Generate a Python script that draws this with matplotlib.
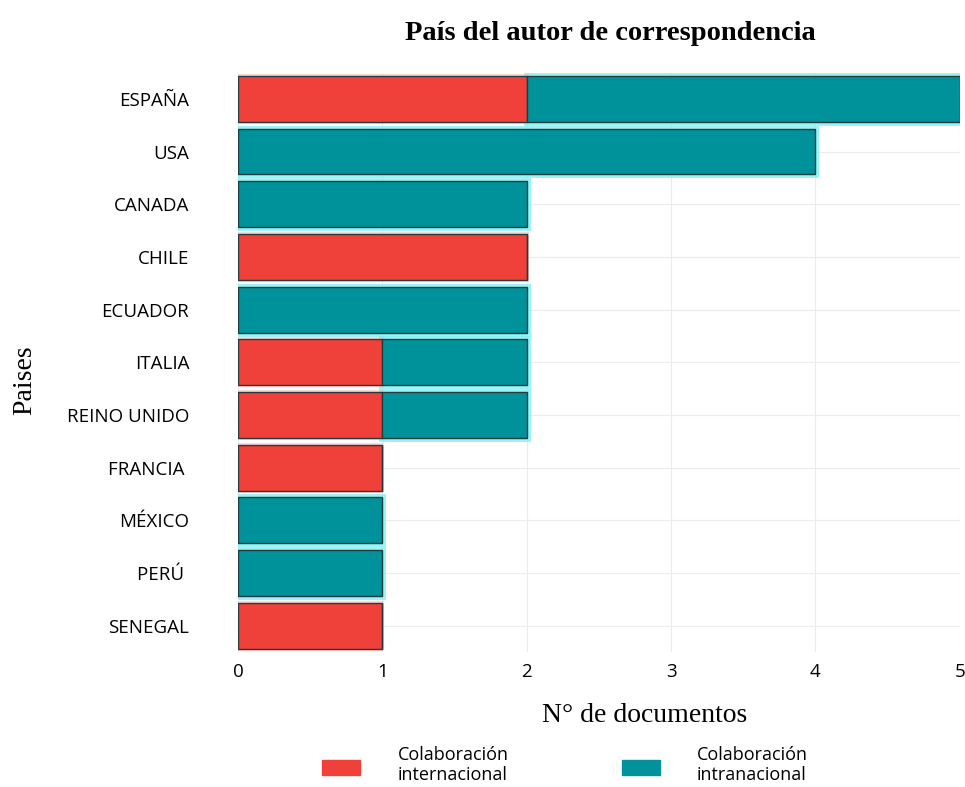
import matplotlib
matplotlib.use("Agg")
import matplotlib.pyplot as plt
import numpy as np
from matplotlib.patches import Rectangle

# datos
paises = ["ESPAÑA", "USA", "CANADA", "CHILE", "ECUADOR", "ITALIA",
          "REINO UNIDO", "FRANCIA ", "MÉXICO", "PERÚ ", "SENEGAL"]
internacional = [2, 0, 0, 2, 0, 1, 1, 1, 0, 0, 1]
intranacional = [3, 4, 2, 0, 2, 1, 1, 0, 1, 1, 0]
xticks = [0, 1, 2, 3, 4, 5]

rojo = "#f0403a"
teal = "#00929a"
borde = "#263b3d"

fig = plt.figure(figsize=(9.65, 7.87), dpi=100)
ax = fig.add_axes([0.2466, 0.1715, 0.748, 0.7363])

y = np.arange(len(paises))
h = 0.87

# brillo alrededor de las barras
for yi, a, b in zip(y, internacional, intranacional):
    if b > 0:
        ax.barh(yi, b, left=a, height=h, color="none", edgecolor="#6ff0f2",
                linewidth=5, alpha=0.7, zorder=2)
    if a > 0:
        ax.barh(yi, a, height=h, color="none", edgecolor="#ffb3ad",
                linewidth=3, alpha=0.5, zorder=2)

ax.barh(y, internacional, height=h, color=rojo, edgecolor=borde,
        linewidth=1.0, zorder=3)
ax.barh(y, intranacional, left=internacional, height=h, color=teal,
        edgecolor=borde, linewidth=1.0, zorder=3)

ax.set_xlim(0, 5)
ax.set_ylim(len(paises) - 0.5, -0.5)
ax.set_yticks(y)
ax.set_yticklabels(paises, fontfamily="Open Sans", fontsize=13.5)
ax.set_xticks(xticks)
ax.set_xticklabels([str(t) for t in xticks], fontfamily="Open Sans", fontsize=13.5)
ax.tick_params(axis="y", length=0, pad=35)
ax.tick_params(axis="x", length=0, pad=8)
ax.grid(True, color="#ececec", linewidth=0.8, zorder=0)
ax.set_axisbelow(True)
for s in ax.spines.values():
    s.set_visible(False)

fig.text(610 / 965, 1 - 33 / 787, "País del autor de correspondencia",
         ha="center", va="center", fontfamily="Liberation Serif",
         fontweight="bold", fontsize=20.5)
fig.text(645 / 965, 1 - 715 / 787, "N° de documentos", ha="center", va="center",
         fontfamily="Liberation Serif", fontsize=20)
fig.text(25 / 965, 1 - 380 / 787, "Paises", ha="center", va="center",
         rotation=90, fontfamily="Liberation Serif", fontsize=20)

# leyenda manual
for x0, col, txt, tx in [(322, rojo, "Colaboración\ninternacional", 453),
                         (622, teal, "Colaboración\nintranacional", 752)]:
    fig.patches.append(Rectangle((x0 / 965, 1 - 775 / 787), 38 / 965, 15 / 787,
                                 transform=fig.transFigure, color=col))
    fig.text(tx / 965, 1 - 765 / 787, txt, ha="center", va="center",
             multialignment="center", fontfamily="Open Sans", fontsize=13,
             linespacing=1.1)

fig.savefig("out.png", dpi=100, facecolor="white")
